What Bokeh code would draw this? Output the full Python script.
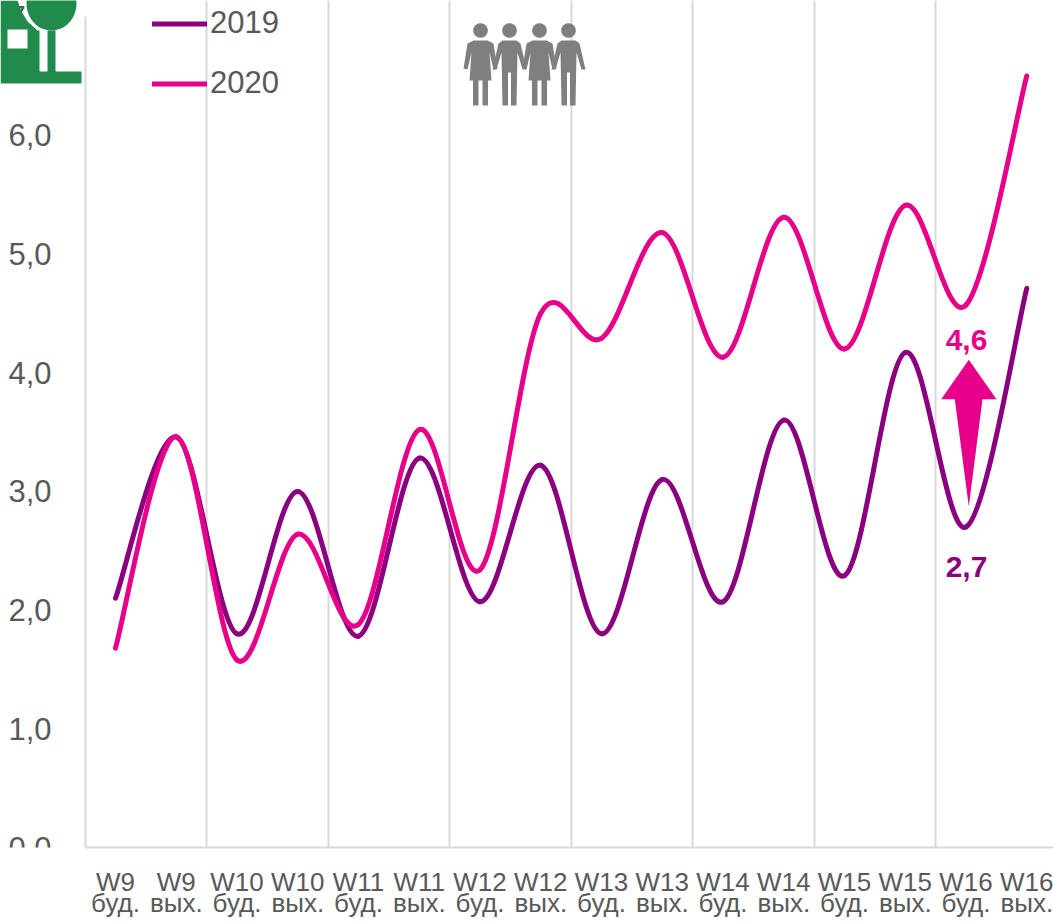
import numpy as np
from bokeh.embed import file_html
from bokeh.models import (AllLabels, ColumnDataSource, FixedTicker, Grid, Label, Legend, LegendItem,
                          PolyAnnotation, Range1d)
from bokeh.plotting import figure
from bokeh.resources import INLINE

categories = ["W9\nбуд.", "W9\nвых.", "W10\nбуд.", "W10\nвых.", "W11\nбуд.", "W11\nвых.",
              "W12\nбуд.", "W12\nвых.", "W13\nбуд.", "W13\nвых.", "W14\nбуд.", "W14\nвых.",
              "W15\nбуд.", "W15\nвых.", "W16\nбуд.", "W16\nвых."]
series_2019 = [2.10, 3.46, 1.80, 3.00, 1.78, 3.28, 2.07, 3.22, 1.80, 3.10, 2.07, 3.60, 2.29, 4.17, 2.70, 4.71]
series_2020 = [1.68, 3.46, 1.58, 2.64, 1.88, 3.52, 2.34, 4.50, 4.29, 5.18, 4.13, 5.31, 4.20, 5.41, 4.57, 6.50]
y_ticks = [0, 1, 2, 3, 4, 5, 6, 7]
y_labels = ["0,0", "1,0", "2,0", "3,0", "4,0", "5,0", "6,0", "7,0"]

PURPLE = "#8B007F"
PINK = "#E6008A"
GRID = "#D9D9D9"
TEXT = "#595959"
FONT = "Liberation Sans"
W, H = 1053, 923
FL, FB = 85, 847            # axis position and frame bottom on the canvas
CAT_W = 60.75
UNIT = 118.7
X0 = 115                    # pixel centre of the first category
AX_X = (FL - X0) / CAT_W

p = figure(width=W, height=H, output_backend="svg", toolbar_location=None,
           x_range=Range1d(-X0 / CAT_W, (W - X0) / CAT_W),
           y_range=Range1d(0, FB / UNIT),
           min_border_left=0, min_border_right=0, min_border_top=0, min_border_bottom=H - FB,
           outline_line_color=None)
p.xgrid.visible = False
p.ygrid.visible = False
p.add_layout(Grid(dimension=0, ticker=FixedTicker(ticks=[i + 0.5 for i in range(1, 14, 2)]),
                  bounds=(0, 7), grid_line_color=GRID, grid_line_width=2))

ax = p.xaxis[0]
ax.ticker = FixedTicker(ticks=list(range(len(categories))))
ax.major_label_overrides = {i: c for i, c in enumerate(categories)}
ax.major_label_policy = AllLabels()
ax.bounds = (AX_X, (W - X0) / CAT_W)
ax.major_tick_line_color = None
ax.minor_tick_line_color = None
ax.axis_line_color = GRID
ax.axis_line_width = 2
ax.major_label_text_font = FONT
ax.major_label_text_font_size = "26px"
ax.major_label_text_color = TEXT
ax.major_label_text_line_height = 0.72
ax.major_label_standoff = 13

ay = p.yaxis[0]
ay.fixed_location = AX_X
ay.ticker = FixedTicker(ticks=y_ticks)
ay.major_label_overrides = dict(zip(y_ticks, y_labels))
ay.bounds = (0, 7)
ay.major_tick_line_color = None
ay.minor_tick_line_color = None
ay.axis_line_color = GRID
ay.axis_line_width = 2
ay.major_label_text_font = FONT
ay.major_label_text_font_size = "31px"
ay.major_label_text_color = TEXT
ay.major_label_standoff = 28


def smooth_source(vals):
    """Bezier segments through the values, as a spreadsheet's smoothed line draws them."""
    y = np.array(vals, dtype=float)
    x = np.arange(len(y), dtype=float)
    prev_i = np.maximum(np.arange(len(y)) - 1, 0)
    next_i = np.minimum(np.arange(len(y)) + 1, len(y) - 1)
    dx = (x[next_i] - x[prev_i]) / 6
    dy = (y[next_i] - y[prev_i]) / 6
    return ColumnDataSource(dict(x0=x[:-1], y0=y[:-1], x1=x[1:], y1=y[1:],
                                 cx0=(x + dx)[:-1], cy0=(y + dy)[:-1],
                                 cx1=(x - dx)[1:], cy1=(y - dy)[1:]))


lines = []
for vals, col in ((series_2019, PURPLE), (series_2020, PINK)):
    lines.append(p.bezier(x0="x0", y0="y0", x1="x1", y1="y1", cx0="cx0", cy0="cy0", cx1="cx1", cy1="cy1",
                          source=smooth_source(vals), line_color=col, line_width=5, line_cap="round"))

legend = Legend(items=[LegendItem(label="2019", renderers=[lines[0]], index=0),
                       LegendItem(label="2020", renderers=[lines[1]], index=0)],
                location=(152, 746), orientation="vertical", background_fill_alpha=0, border_line_color=None,
                padding=0, margin=0, spacing=24, glyph_width=55, glyph_height=35, label_height=35,
                label_standoff=3, label_text_font=FONT, label_text_font_size="31px",
                label_text_color=TEXT, label_text_baseline="middle")
p.add_layout(legend)


def px_x(v):
    return (v - X0) / CAT_W


def px_y(v):
    return (FB - v) / UNIT


# value labels on the last weekday point
for txt, col, py in (("4,6", PINK, 339), ("2,7", PURPLE, 566)):
    p.add_layout(Label(x=px_x(966), y=px_y(py), text=txt, text_font=FONT, text_font_size="30px",
                       text_font_style="bold", text_color=col, text_align="center", text_baseline="middle"))


def poly(pts, color):
    xs = [a for a, _ in pts]
    ys = [b for _, b in pts]
    p.add_layout(PolyAnnotation(xs=xs, ys=ys, xs_units="canvas", ys_units="canvas",
                                fill_color=color, fill_alpha=1, line_color=None))


def circle_pts(cx, cy, rx, ry, n=48):
    t = np.linspace(0, 2 * np.pi, n, endpoint=False)
    return list(zip((cx + rx * np.cos(t)).tolist(), (cy + ry * np.sin(t)).tolist()))


# arrow
poly([(968.3, 359.3), (996, 398.7), (982, 398.7), (968.3, 506), (954.3, 398.7), (940.7, 398.7)], PINK)

# people icon
WOMAN = [(-7, 10), (7, 10), (13, 13), (17, 38), (13, 39), (9, 22), (11, 50), (7.5, 50), (7.5, 75), (2, 75), (2, 50),
         (-2, 50), (-2, 75), (-7.5, 75), (-7.5, 50), (-11, 50), (-9, 22), (-13, 39), (-17, 38), (-13, 13)]
MAN = [(-7, 10), (7, 10), (11, 13), (17, 39), (13, 39), (8, 22), (7, 75), (1.5, 75), (1.5, 42), (-1.5, 42),
       (-1.5, 75), (-7, 75), (-8, 22), (-13, 39), (-17, 39), (-11, 13)]
GRAY = "#7F7F7F"
for cx, shape in ((480, WOMAN), (509, MAN), (539, WOMAN), (568, MAN)):
    poly(circle_pts(cx, 30, 7.3, 7.3), GRAY)
    poly([(cx + a, 30 + b) for a, b in shape], GRAY)

# green house and tree icon
GREEN = "#218B4C"
poly([(0, 0), (17, 0), (21, 11), (27, 21), (37, 30), (39, 30), (39, 71), (47, 71), (47, 30), (55, 30), (55, 71),
      (81, 71), (81, 83), (0, 83)], GREEN)
poly([(7, 29), (27, 29), (27, 48), (7, 48)], "#FFFFFF")
poly(circle_pts(51, 3, 25, 27), GREEN)

open("out.html", "w").write(file_html(p, INLINE))
